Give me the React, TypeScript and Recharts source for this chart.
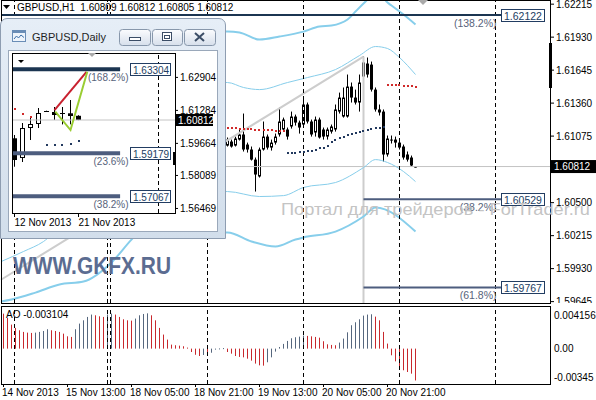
import React from 'react';
import { ComposedChart, Bar, Line, XAxis, YAxis, ReferenceLine, ReferenceDot } from 'recharts';

const FONT = '"Liberation Sans", Arial, Helvetica, sans-serif';

/* ================= H1 window ================= */
const headerSymbol = 'GBPUSD,H1';
const headerQuote = ['1.60809', '1.60812', '1.60805', '1.60812'];
const bidPrice = 1.60812;
const priceMin = 1.59633;
const priceMax = 1.62251;
const priceTicks = [1.62215, 1.6193, 1.61645, 1.6136, 1.61075, 1.605, 1.60215, 1.5993, 1.59645];
const barDomain: [number, number] = [-0.625, 136.875];

const firstCandle = 56;
const hOpen = [1.60993, 1.61028, 1.60993, 1.61045, 1.61089, 1.61002, 1.60959, 1.60872, 1.60726, 1.60959, 1.61071, 1.60976, 1.61019, 1.61089, 1.61132, 1.61132, 1.61158, 1.61244, 1.61192, 1.61175, 1.61348, 1.61201, 1.61106, 1.61218, 1.61132, 1.61071, 1.61114, 1.61132, 1.61287, 1.61244, 1.61244, 1.61503, 1.61408, 1.61365, 1.6159, 1.61702, 1.61693, 1.61477, 1.61305, 1.61287, 1.60916, 1.61045, 1.61045, 1.61019, 1.60985, 1.60916, 1.6089, 1.60809];
const hHigh = [1.61063, 1.61045, 1.61071, 1.61132, 1.6127, 1.61019, 1.60985, 1.6089, 1.60976, 1.61201, 1.61089, 1.61045, 1.61097, 1.61322, 1.61235, 1.61149, 1.61287, 1.61261, 1.61209, 1.61417, 1.61365, 1.61218, 1.61244, 1.61235, 1.61149, 1.61149, 1.61175, 1.61348, 1.61451, 1.61495, 1.61607, 1.61538, 1.61477, 1.61607, 1.61762, 1.61754, 1.61719, 1.61495, 1.61348, 1.61305, 1.6108, 1.6108, 1.61071, 1.61045, 1.61002, 1.60942, 1.60907, 1.60812];
const hLow = [1.60985, 1.60976, 1.60985, 1.61037, 1.60942, 1.60933, 1.60864, 1.60596, 1.60717, 1.6095, 1.60959, 1.6095, 1.61002, 1.61071, 1.61114, 1.61045, 1.6114, 1.61166, 1.61097, 1.61158, 1.61184, 1.61071, 1.61071, 1.61054, 1.61045, 1.61045, 1.61097, 1.61114, 1.6127, 1.61235, 1.61235, 1.61365, 1.61348, 1.61287, 1.61538, 1.61581, 1.6146, 1.61287, 1.61253, 1.60855, 1.60898, 1.61011, 1.60976, 1.60959, 1.60872, 1.60855, 1.60812, 1.60805];
const hClose = [1.61045, 1.60985, 1.61054, 1.61089, 1.60959, 1.60959, 1.60872, 1.60743, 1.60959, 1.61071, 1.60976, 1.61019, 1.61071, 1.61201, 1.61218, 1.61071, 1.61244, 1.61192, 1.61149, 1.61348, 1.61201, 1.61089, 1.61218, 1.61063, 1.61071, 1.61132, 1.61158, 1.61305, 1.61408, 1.61408, 1.61503, 1.61408, 1.61365, 1.61538, 1.61711, 1.61607, 1.61477, 1.61305, 1.61279, 1.60916, 1.61054, 1.61041, 1.61019, 1.60976, 1.6089, 1.60872, 1.60821, 1.60812];

const upperOuterIdx = [55, 56, 59, 64, 69, 75, 79, 82, 86, 88, 90, 92, 94, 96, 97, 100, 103];
const upperOuterVal = [1.61978, 1.61978, 1.6197, 1.61909, 1.61935, 1.61978, 1.62022, 1.6203, 1.62082, 1.62151, 1.62221, 1.62281, 1.62298, 1.62229, 1.62203, 1.62125, 1.62039];
const upperInnerIdx = [55, 56, 60, 64, 71, 76, 83, 89, 93, 96, 99, 103];
const upperInnerVal = [1.61538, 1.61538, 1.61495, 1.61477, 1.61538, 1.61581, 1.6165, 1.61771, 1.61849, 1.61832, 1.61754, 1.61607];
const lowerInnerIdx = [-0.6, 5, 10, 12, 56, 64, 70, 75, 83, 90, 93, 96, 100, 103];
const lowerInnerVal = [1.59991, 1.60078, 1.60164, 1.60216, 1.60596, 1.60553, 1.60561, 1.60631, 1.60674, 1.60803, 1.60872, 1.60847, 1.60769, 1.60682];
const lowerOuterIdx = [-0.6, 2, 8, 14, 20, 27, 32, 34, 55, 56, 62, 68, 73, 75, 83, 90, 93, 103];
const lowerOuterVal = [1.59646, 1.59663, 1.59723, 1.59793, 1.59818, 1.59983, 1.60181, 1.6025, 1.60242, 1.60242, 1.60164, 1.60121, 1.60181, 1.60199, 1.6025, 1.6038, 1.60458, 1.6025];

const sarRedStart1 = 56;
const sarRed1 = [1.61149, 1.61149, 1.61145, 1.6114, 1.6114, 1.61136, 1.61136, 1.61132, 1.61132, 1.61132, 1.61127, 1.61127, 1.61123, 1.61123, 1.61123];
const sarNavyStart = 71;
const sarNavy = [1.60929, 1.6093, 1.60933, 1.60935, 1.60937, 1.60942, 1.6095, 1.60959, 1.60968, 1.60976, 1.60993, 1.61028, 1.61045, 1.61058, 1.61071, 1.61084, 1.61097, 1.61106, 1.61114, 1.61123, 1.61127, 1.61136, 1.61145, 1.61149, 1.61158];
const sarRedStart2 = 96;
const sarRed2 = [1.6152, 1.6152, 1.61516, 1.61516, 1.61512, 1.61512, 1.61508, 1.61503];

const fiboLevels = [1.62122, 1.60529, 1.59767];
const fiboText = ['1.62122', '1.60529', '1.59767'];
const fiboPct = ['(138.2%)', '(38.2%)', '(61.8%)'];
const fiboFrom = [-0.625, 90, 90];
const fiboTo = 124.4;
const fiboColor = ['#1b3551', '#4d5d7e', '#4d5d7e'];

const trendIdx = [-0.625, 90];
const trendVal = [1.59834, 1.61762];
const anchorIdx = 90;

const daySeparators = [2.75, 26, 26.75, 51, 75, 99, 123];

/* ================= AO ================= */
const aoName = 'AO';
const aoValues = [
  0.00341, 0.00299, 0.00234, 0.00202, 0.00179, 0.00163, 0.00156, 0.00153,
  0.00156, 0.00163, 0.00172, 0.00189,
  0.00179, 0.00172, 0.00163, 0.00146, 0.0012, 0.00114,
  0.00189, 0.00244, 0.00276, 0.00309, 0.00332,
  0.00325, 0.00315, 0.00309,
  0.00332, 0.00341,
  0.00332, 0.00309, 0.00286, 0.00276, 0.00273,
  0.00293, 0.00325, 0.00338, 0.00344,
  0.00325, 0.00276, 0.00202, 0.00137, 0.00088, 0.00039, 0.00033, 0.00029, 0.00023, 0.0001, -0.00033, -0.0006, -0.00072,
  -0.00062, -0.00072, -0.0004, -0.00005, 0.00002, 0.00005,
  -0.00033, -0.00049, -0.00072, -0.00081, -0.00085, -0.00098, -0.00117, -0.00146, -0.00163, -0.00166,
  -0.00133, -0.00085, -0.00029, 0.00016, 0.00046, 0.00075, 0.00101, 0.00111, 0.00117, 0.00127,
  0.00124, 0.0012, 0.00114, 0.00107, 0.00072, 0.00042, 0.00036, 0.00033,
  0.00059, 0.00098, 0.00159, 0.00228, 0.00257, 0.00286, 0.00322, 0.00332, 0.00335,
  0.00312, 0.00276, 0.00163, 0.00049, -0.00065, -0.00124, -0.00189, -0.00211, -0.00228, -0.00244, -0.003104,
];
const aoTickVals = [0.004156, 0, -0.00345];
const aoTickLabels = ['0.004156', '0.00', '-0.00345'];
const timeTickIdx = [0, 16, 32, 48, 64, 80, 96];
const timeTickLabels = ['14 Nov 2013', '15 Nov 13:00', '18 Nov 05:00', '18 Nov 21:00', '19 Nov 13:00', '20 Nov 05:00', '20 Nov 21:00'];
const aoUpColor = '#56677e';
const aoDownColor = '#c8282d';

/* ================= Daily inset ================= */
const dailyTitle = 'GBPUSD,Daily';
const dOpen = [1.59914, 1.58946, 1.60419, 1.60616, 1.61254, 1.61205, 1.61156, 1.61141, 1.61019];
const dHigh = [1.60076, 1.60665, 1.6091, 1.61401, 1.6127, 1.6145, 1.6145, 1.61794, 1.61045];
const dLow = [1.58519, 1.5875, 1.5983, 1.60419, 1.6121, 1.60812, 1.60596, 1.606, 1.60805];
const dClose = [1.58848, 1.60419, 1.60616, 1.61156, 1.6123, 1.61058, 1.61131, 1.61008, 1.60812];
const dailyDomain: [number, number] = [-0.3125, 20.0625];
const dailyMin = 1.56246;
const dailyMax = 1.64102;
const dailyTicks = [1.62904, 1.61284, 1.59664, 1.58089, 1.56469];
const dailyDateIdx = [0, 8];
const dailyDateLabels = ['12 Nov 2013', '21 Nov 2013'];
const dFiboLevels = [1.63304, 1.59179, 1.57067];
const dFiboText = ['1.63304', '1.59179', '1.57067'];
const dFiboPct = ['(168.2%)', '(23.6%)', '(38.2%)'];
const dFiboColor = ['#1b3551', '#4d5d7e', '#4d5d7e'];
const dFiboTo = 13.2;
const dFiboTag = 14.4;
const dRedIdx = [0, 1, 2];
const dRed = [1.61337, 1.61107, 1.60945];
const dNavyIdx = [4, 5, 6, 7, 8];
const dNavy = [1.59585, 1.59585, 1.59585, 1.59634, 1.59796];
const dRedLineIdx = [5, 9];
const dRedLineVal = [1.613, 1.6318];
const dGreenLineIdx = [5.1, 7, 9.1];
const dGreenLineVal = [1.6122, 1.6032, 1.6318];
const dSeparator = 18;

/* ================= helpers ================= */
const pts = (idx: number[], vals: number[]) => idx.map((x, k) => ({ x, v: vals[k] }));
const seq = (start: number, vals: number[]) => vals.map((v, k) => ({ x: start + k, v }));

const candleRows = hOpen.map((o, k) => ({
  x: firstCandle + k, open: o, high: hHigh[k], low: hLow[k], close: hClose[k], range: [hLow[k], hHigh[k]],
}));
const dailyRows = dOpen.map((o, k) => ({
  x: k, open: o, high: dHigh[k], low: dLow[k], close: dClose[k], range: [dLow[k], dHigh[k]],
}));
const aoRows = aoValues.map((v, i) => ({ x: i, ao: v, up: i > 0 && v > aoValues[i - 1] }));

const makeCandle = (hw: number) => (props: any) => {
  const { x, y, width, height, payload } = props;
  if (payload == null || x == null || y == null) return <g />;
  const cx = Math.floor(x + width / 2);
  const top = Math.min(y, y + height);
  const h = Math.abs(height);
  const span = payload.high - payload.low;
  const toY = (v: number) => (span > 0 ? top + ((payload.high - v) / span) * h : top);
  const yo = toY(payload.open);
  const yc = toY(payload.close);
  const bTop = Math.min(yo, yc);
  const bBot = Math.max(yo, yc);
  const bull = payload.close > payload.open;
  return (
    <g>
      <rect x={cx} y={top} width={1} height={Math.max(h, 1)} fill="#000" />
      {bull && bBot - bTop >= 2 ? (
        <rect x={cx - hw + 0.5} y={bTop + 0.5} width={2 * hw} height={bBot - bTop - 1} fill="#fff" stroke="#000" strokeWidth={1} />
      ) : (
        <rect x={cx - hw} y={bTop} width={2 * hw + 1} height={Math.max(bBot - bTop, 1)} fill="#000" />
      )}
    </g>
  );
};
const HourCandle = makeCandle(1);
const DayCandle = makeCandle(2);

/* AO stick: colour follows the AO rule (higher than previous bar -> grey, else red) */
const AoStick = (props: any) => {
  const { x, y, width, height, payload } = props;
  if (payload == null || x == null || y == null) return <g />;
  const cx = Math.floor(x + width / 2);
  const top = Math.min(y, y + height);
  return <rect x={cx} y={top} width={1} height={Math.max(Math.abs(height), 1)} fill={payload.up ? aoUpColor : aoDownColor} />;
};

const sqDot = (color: string) => (p: any) => {
  if (p.cx == null || p.cy == null) return <g key={p.index} />;
  return <rect key={p.index} x={Math.round(p.cx) - 1} y={Math.round(p.cy) - 1} width={2} height={2} fill={color} />;
};

const PriceTick = (p: any) => {
  const { x, y, payload } = p;
  return (
    <g>
      <line x1={x} x2={x + 3} y1={y} y2={y} stroke="#000" />
      <text x={x + 5} y={y + 3.5} fontSize={10} fontFamily={FONT} fill="#000">{Number(payload.value).toFixed(5)}</text>
    </g>
  );
};

const AoTick = (p: any) => {
  const { x, y, payload } = p;
  const k = aoTickVals.indexOf(payload.value);
  const dy = payload.value > 0 ? 9 : payload.value < 0 ? -7 : 0;
  return (
    <text x={x + 3} y={y + dy + 3.5} fontSize={10} fontFamily={FONT} fill="#000">{aoTickLabels[k]}</text>
  );
};

const TimeTick = (p: any) => {
  const { x, y, payload } = p;
  const k = timeTickIdx.indexOf(payload.value);
  return (
    <g>
      <line x1={x} x2={x} y1={y} y2={y + 3} stroke="#000" />
      <text x={x - 1.5} y={y + 12} fontSize={10} fontFamily={FONT} fill="#000">{timeTickLabels[k]}</text>
    </g>
  );
};

const DateTick = (p: any) => {
  const { x, y, payload } = p;
  const k = dailyDateIdx.indexOf(payload.value);
  return (
    <g>
      <line x1={x} x2={x} y1={y} y2={y + 4} stroke="#000" />
      <text x={x} y={y + 13} fontSize={10} fontFamily={FONT} fill="#000">{dailyDateLabels[k]}</text>
    </g>
  );
};

const fiboTag = (text: string, pct: string, w: number, fs: number, gap: number) => (p: any) => {
  const { cx, cy } = p;
  if (cx == null || cy == null) return <g />;
  const bx = Math.round(cx) + 0.5;
  const by = Math.round(cy) - 6 + 0.5;
  return (
    <g>
      <rect x={bx} y={by} width={w} height={12} fill="#fff" stroke="#223d62" />
      <text x={bx + 2.5} y={by + 10} fontSize={fs} fontFamily={FONT} fill="#223d62">{text}</text>
      <text x={bx - gap} y={cy + 12} fontSize={fs} fontFamily={FONT} fill="#57637a" textAnchor="end">{pct}</text>
    </g>
  );
};

const priceTag = (text: string, w: number, h: number) => (p: any) => {
  const { cx, cy } = p;
  if (cx == null || cy == null) return <g />;
  return (
    <g>
      <rect x={cx} y={cy - h / 2} width={w} height={h} fill="#000" />
      <text x={cx + 3} y={cy + 3.5} fontSize={10} fontFamily={FONT} fill="#fff">{text}</text>
    </g>
  );
};

export default function App() {
  const band = (idx: number[], vals: number[], w: number) => (
    <Line data={pts(idx, vals)} dataKey="v" type="monotone" stroke="#87ceeb" strokeWidth={w} dot={false} activeDot={false} isAnimationActive={false} />
  );
  return (
    <div style={{ position: 'absolute', left: 0, top: 0, width: 596, height: 400, background: '#fff', overflow: 'hidden', fontFamily: FONT }}>
      {/* ---------- main H1 chart ---------- */}
      <div style={{ position: 'absolute', left: 0, top: 0 }}>
        <ComposedChart width={596} height={303} data={candleRows} margin={{ top: 0, right: 0, bottom: 0, left: 1 }}>
          <XAxis dataKey="x" type="number" domain={barDomain} allowDataOverflow hide />
          <YAxis orientation="right" width={45} type="number" domain={[priceMin, priceMax]} allowDataOverflow ticks={priceTicks} interval={0} tick={<PriceTick />} tickSize={0} tickMargin={0} axisLine={false} tickLine={false} />
          <ReferenceLine y={bidPrice} stroke="#c4c4c4" ifOverflow="visible" />
          <ReferenceLine segment={[{ x: trendIdx[0], y: trendVal[0] }, { x: trendIdx[1], y: trendVal[1] }]} stroke="#cdcdcd" strokeWidth={2} ifOverflow="visible" />
          <ReferenceLine segment={[{ x: anchorIdx, y: trendVal[1] }, { x: anchorIdx, y: priceMin }]} stroke="#cdcdcd" strokeWidth={2} ifOverflow="visible" />
          {band(upperOuterIdx, upperOuterVal, 2)}
          {band(lowerOuterIdx, lowerOuterVal, 2)}
          {band(upperInnerIdx, upperInnerVal, 1)}
          {band(lowerInnerIdx, lowerInnerVal, 1)}
          {daySeparators.map((d) => (
            <ReferenceLine key={'s' + d} x={d} stroke="#000" strokeDasharray="4 3" ifOverflow="visible" />
          ))}
          {fiboLevels.map((lv, k) => (
            <ReferenceLine key={'f' + k} segment={[{ x: fiboFrom[k], y: lv }, { x: fiboTo, y: lv }]} stroke={fiboColor[k]} strokeWidth={2} ifOverflow="visible" />
          ))}
          <Bar dataKey="range" barSize={3} shape={HourCandle} isAnimationActive={false} />
          <Line data={seq(sarRedStart1, sarRed1)} dataKey="v" stroke="none" dot={sqDot('#d02a2a')} activeDot={false} isAnimationActive={false} />
          <Line data={seq(sarNavyStart, sarNavy)} dataKey="v" stroke="none" dot={sqDot('#22395e')} activeDot={false} isAnimationActive={false} />
          <Line data={seq(sarRedStart2, sarRed2)} dataKey="v" stroke="none" dot={sqDot('#d02a2a')} activeDot={false} isAnimationActive={false} />
          {fiboLevels.map((lv, k) => (
            <ReferenceDot key={'t' + k} x={fiboTo} y={lv} r={0} ifOverflow="visible" shape={fiboTag(fiboText[k], fiboPct[k], 43, 10.5, 5)} />
          ))}
          <ReferenceDot x={barDomain[1]} y={bidPrice} r={0} ifOverflow="visible" shape={priceTag(bidPrice.toFixed(5), 45, 13)} />
        </ComposedChart>
      </div>
      <div style={{ position: 'absolute', left: 1, top: 0, width: 550, height: 304, boxSizing: 'border-box', border: '1px solid #000' }} />

      {/* ---------- AO sub window ---------- */}
      <div style={{ position: 'absolute', left: 0, top: 306 }}>
        <ComposedChart width={596} height={94} data={aoRows} margin={{ top: 0, right: 0, bottom: 0, left: 1 }}>
          <XAxis dataKey="x" type="number" domain={barDomain} allowDataOverflow ticks={timeTickIdx} interval={0} tick={<TimeTick />} height={16} tickSize={0} tickMargin={0} axisLine={false} tickLine={false} />
          <YAxis orientation="right" width={45} type="number" domain={[aoTickVals[2], aoTickVals[0]]} allowDataOverflow ticks={aoTickVals} interval={0} tick={<AoTick />} tickSize={0} tickMargin={0} axisLine={false} tickLine={false} />
          {daySeparators.map((d) => (
            <ReferenceLine key={'a' + d} x={d} stroke="#000" strokeDasharray="4 3" ifOverflow="visible" />
          ))}
          <Bar dataKey="ao" barSize={1} shape={AoStick} isAnimationActive={false} />
        </ComposedChart>
      </div>
      <div style={{ position: 'absolute', left: 1, top: 306, width: 550, height: 79, boxSizing: 'border-box', border: '1px solid #000' }} />

      {/* ---------- Daily inset window ---------- */}
      <div style={{ position: 'absolute', left: 0, top: 18, width: 226, height: 221, boxSizing: 'border-box', border: '1px solid #8e9db1', borderRadius: '7px 7px 0 0', background: 'linear-gradient(#e6eef7, #d2deeb)' }} />
      <svg width={226} height={34} style={{ position: 'absolute', left: 0, top: 18 }}>
        <defs>
          <linearGradient id="btnG" x1="0" y1="0" x2="0" y2="1">
            <stop offset="0" stopColor="#fbfcfe" />
            <stop offset="1" stopColor="#d6dfeb" />
          </linearGradient>
        </defs>
        <rect x={12.5} y={12.5} width={13} height={11} fill="#eef4fb" stroke="#6a8db6" />
        <rect x={12.5} y={12.5} width={13} height={2.5} fill="#6a8db6" />
        <polyline points="14,21 16.5,18 18.5,20 21,17 24,19.5" fill="none" stroke="#3a6ea8" strokeWidth={1} />
        <text x={32} y={23} fontSize={11} fontFamily={FONT} fill="#1f1f1f">{dailyTitle}</text>
        <rect x={119.5} y={11.5} width={31} height={16} rx={3} fill="url(#btnG)" stroke="#8797ab" />
        <rect x={129.5} y={19.5} width={11} height={3} fill="#fff" stroke="#3b4d66" />
        <rect x={152.5} y={11.5} width={30} height={16} rx={3} fill="url(#btnG)" stroke="#8797ab" />
        <rect x={162.5} y={14.5} width={9} height={8} fill="#fff" stroke="#3b4d66" />
        <rect x={164.5} y={17.5} width={5} height={3} fill="none" stroke="#3b4d66" />
        <rect x={184.5} y={11.5} width={31} height={16} rx={3} fill="url(#btnG)" stroke="#8797ab" />
        <path d="M195,15 L204,23 M204,15 L195,23" stroke="#3b4d66" strokeWidth={2} />
      </svg>
      <div style={{ position: 'absolute', left: 8, top: 50, width: 210, height: 182, boxSizing: 'border-box', border: '1px solid #9aa8ba', background: '#fff' }} />
      <div style={{ position: 'absolute', left: 9, top: 51 }}>
        <ComposedChart width={208} height={180} data={dailyRows} margin={{ top: 2, right: 0, bottom: 0, left: 3 }}>
          <XAxis dataKey="x" type="number" domain={dailyDomain} allowDataOverflow ticks={dailyDateIdx} interval={0} tick={<DateTick />} height={18} tickSize={0} tickMargin={0} axisLine={false} tickLine={false} />
          <YAxis orientation="right" width={42} type="number" domain={[dailyMin, dailyMax]} allowDataOverflow ticks={dailyTicks} interval={0} tick={<PriceTick />} tickSize={0} tickMargin={0} axisLine={false} tickLine={false} />
          <ReferenceLine y={bidPrice} stroke="#c4c4c4" ifOverflow="visible" />
          <ReferenceLine x={dSeparator} stroke="#000" strokeDasharray="4 3" ifOverflow="visible" />
          {dFiboLevels.map((lv, k) => (
            <ReferenceLine key={'df' + k} segment={[{ x: dailyDomain[0], y: lv }, { x: dFiboTo, y: lv }]} stroke={dFiboColor[k]} strokeWidth={4} ifOverflow="visible" />
          ))}
          <Bar dataKey="range" barSize={5} shape={DayCandle} isAnimationActive={false} />
          <Line data={pts(dRedLineIdx, dRedLineVal)} dataKey="v" type="linear" stroke="#c8202e" strokeWidth={2} dot={false} activeDot={false} isAnimationActive={false} />
          <Line data={pts(dGreenLineIdx, dGreenLineVal)} dataKey="v" type="linear" stroke="#9acd32" strokeWidth={2} dot={false} activeDot={false} isAnimationActive={false} />
          <Line data={pts(dRedIdx, dRed)} dataKey="v" stroke="none" dot={sqDot('#d02a2a')} activeDot={false} isAnimationActive={false} />
          <Line data={pts(dNavyIdx, dNavy)} dataKey="v" stroke="none" dot={sqDot('#22395e')} activeDot={false} isAnimationActive={false} />
          {dFiboLevels.map((lv, k) => (
            <ReferenceDot key={'dt' + k} x={dFiboTag} y={lv} r={0} ifOverflow="visible" shape={fiboTag(dFiboText[k], dFiboPct[k], 40, 10, 2)} />
          ))}
          <ReferenceDot x={dailyDomain[1]} y={bidPrice} r={0} ifOverflow="visible" shape={priceTag(bidPrice.toFixed(5), 38, 12)} />
        </ComposedChart>
      </div>
      <div style={{ position: 'absolute', left: 12, top: 53, width: 164, height: 161, boxSizing: 'border-box', border: '1px solid #000' }} />

      {/* ---------- overlay texts & markers ---------- */}
      <svg width={596} height={400} style={{ position: 'absolute', left: 0, top: 0, pointerEvents: 'none' }}>
        <polygon points="3,5 10,5 6.5,9" fill="#000" />
        <text x={17} y={11} fontSize={10} fontFamily={FONT} fill="#000" style={{ whiteSpace: 'pre' }}>
          {headerSymbol + '  ' + headerQuote.join(' ')}
        </text>
        <polygon points="418,0 428,0 423,5" fill="#a9a9a9" />
        <rect x={549} y={43} width={3} height={45} fill="#000" />
        <polygon points="88,53 96,53 92,57" fill="#a9a9a9" />
        <polygon points="18,60 24,60 21,63" fill="#000" />
        <rect x={173} y={152} width={3} height={13} fill="#000" />
        <text x={6} y={318} fontSize={10} fontFamily={FONT} fill="#000" style={{ whiteSpace: 'pre' }}>
          {aoName + ' ' + aoValues[aoValues.length - 1].toFixed(6)}
        </text>
        <text x={281} y={215} fontSize={16.5} fontFamily={FONT} fill="#c4c4c4" textLength={309} lengthAdjust="spacingAndGlyphs">
          Портал для трейдеров - ForTrader.ru
        </text>
        <text x={13} y={274} fontSize={23.5} fontWeight="bold" fontFamily={FONT} fill="#5b6c91" textLength={158} lengthAdjust="spacingAndGlyphs">
          WWW.GKFX.RU
        </text>
      </svg>
    </div>
  );
}
